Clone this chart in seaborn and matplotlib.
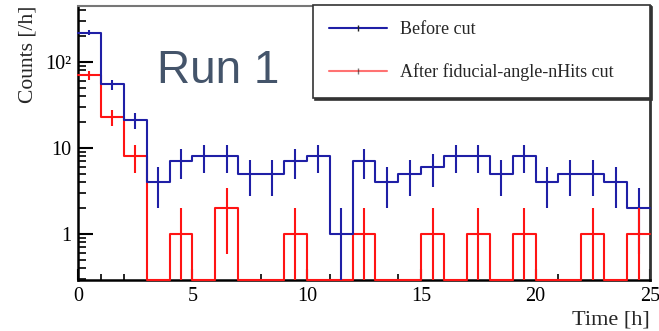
import numpy as np
import pandas as pd
import matplotlib
matplotlib.use("Agg")
import matplotlib.pyplot as plt
import seaborn as sns
from matplotlib.lines import Line2D
from matplotlib.ticker import FixedLocator, FixedFormatter, MultipleLocator, NullFormatter

# Hourly event counts, 0-25 h
bin_edges = list(range(0, 26))
before_cut = [220, 55, 21, 4, 7, 8, 8, 5, 5, 7, 8, 1, 7, 4, 5, 6, 8, 8, 5, 8, 4, 5, 5, 4, 2]
after_cut = [70, 23, 8, 0, 1, 0, 2, 0, 0, 1, 0, 0, 1, 0, 0, 1, 0, 1, 0, 1, 0, 0, 1, 0, 1]
series_labels = ["Before cut", "After fiducial-angle-nHits cut"]
series_colors = ["#1f1fa6", "#ff1414"]
y_ticks = [1, 10, 100]
y_tick_labels = ["1", "10", "10²"]
x_ticks = [0, 5, 10, 15, 20, 25]
y_range = (0.29, 450)
title_text = "Run 1"

sns.set_theme(style="ticks")
plt.rcParams["font.family"] = ["Liberation Serif", "DejaVu Serif"]

edges = np.array(bin_edges, dtype=float)
centers = (edges[:-1] + edges[1:]) / 2
rows = []
for label, counts in zip(series_labels, [before_cut, after_cut]):
    for c, n in zip(centers, counts):
        # empty bins sit on the floor of the log axis
        rows.append({"time": c, "count": n, "shown": max(n, y_range[0]), "series": label})
df = pd.DataFrame(rows)

fig = plt.figure(figsize=(6.59, 3.31), dpi=100)
ax = fig.add_axes([78 / 659, 51 / 331, 572 / 659, 274 / 331])
ax.set_yscale("log")

palette = dict(zip(series_labels, series_colors))
sns.histplot(data=df, x="time", weights="shown", hue="series",
             binwidth=1, binrange=(bin_edges[0], bin_edges[-1]),
             element="step", fill=False, palette=palette, legend=False,
             linewidth=1.5, ax=ax)
# keep the step outlines visible on top of the frame where bins are empty
for line in ax.lines:
    line.set_clip_on(False)
    line.set_zorder(3)

# Poisson error bars at bin centres
for label, color in zip(series_labels, series_colors):
    sub = df[(df["series"] == label) & (df["count"] > 0)]
    n = sub["count"].to_numpy(dtype=float)
    err = np.sqrt(n)
    lo = np.maximum(n - err, y_range[0])
    hi = n + err
    ax.vlines(sub["time"].to_numpy(), lo, hi, colors=color, linewidth=1.5, zorder=3)

ax.set_xlim(edges[0], edges[-1])
ax.set_ylim(*y_range)

ax.xaxis.set_major_locator(FixedLocator(x_ticks))
ax.xaxis.set_minor_locator(MultipleLocator(1))
ax.yaxis.set_major_locator(FixedLocator(y_ticks))
ax.yaxis.set_major_formatter(FixedFormatter(y_tick_labels))
minor_y = [m * 10.0 ** e for e in (-1, 0, 1, 2) for m in range(2, 10)]
ax.yaxis.set_minor_locator(FixedLocator(minor_y))
ax.yaxis.set_minor_formatter(NullFormatter())

ax.tick_params(axis="both", which="both", direction="in", colors="black",
               labelsize=14.5, top=False, right=False)
ax.tick_params(axis="y", which="major", length=11, width=1.5, pad=5)
ax.tick_params(axis="y", which="minor", length=6, width=1.2)
ax.tick_params(axis="x", which="major", length=8, width=1.5, pad=5)
ax.tick_params(axis="x", which="minor", length=4, width=1.2)

for side in ("left", "bottom"):
    ax.spines[side].set_color("black")
    ax.spines[side].set_linewidth(1.8)
ax.spines["top"].set_color("#777777")
ax.spines["top"].set_linewidth(1.5)
ax.spines["right"].set_color("#333333")
ax.spines["right"].set_linewidth(2.0)

ax.set_xlabel("Time [h]", loc="right", fontsize=16, labelpad=3)
ax.set_ylabel("Counts [/h]", loc="top", fontsize=15.5, labelpad=5)

fig.text(157 / 659, 1 - 83 / 331, title_text, fontsize=33, color="#44546a",
         family=["Liberation Sans", "DejaVu Sans"], ha="left", va="baseline")

handles = [Line2D([0], [0], color=c, linewidth=1.5, marker="|", markersize=4,
                  markeredgewidth=1.0, markeredgecolor="#222222")
           for c in series_colors]
handles[1].set_alpha(0.6)
leg = ax.legend(handles, series_labels, loc="upper left",
                bbox_to_anchor=(0.411, 0.675, 0.589, 0.329), mode="expand",
                fontsize=13, frameon=True, fancybox=False, borderpad=0.9,
                labelspacing=1.4, handlelength=3.2, handletextpad=0.7,
                borderaxespad=0,
                shadow={"color": "#333333", "alpha": 1.0, "ox": 1.5, "oy": -1.5})
leg.set_zorder(5)
frame = leg.get_frame()
frame.set_edgecolor("#333333")
frame.set_linewidth(1.2)
frame.set_facecolor("white")
frame.set_alpha(1.0)

fig.savefig("out.png", dpi=100, facecolor="white")
